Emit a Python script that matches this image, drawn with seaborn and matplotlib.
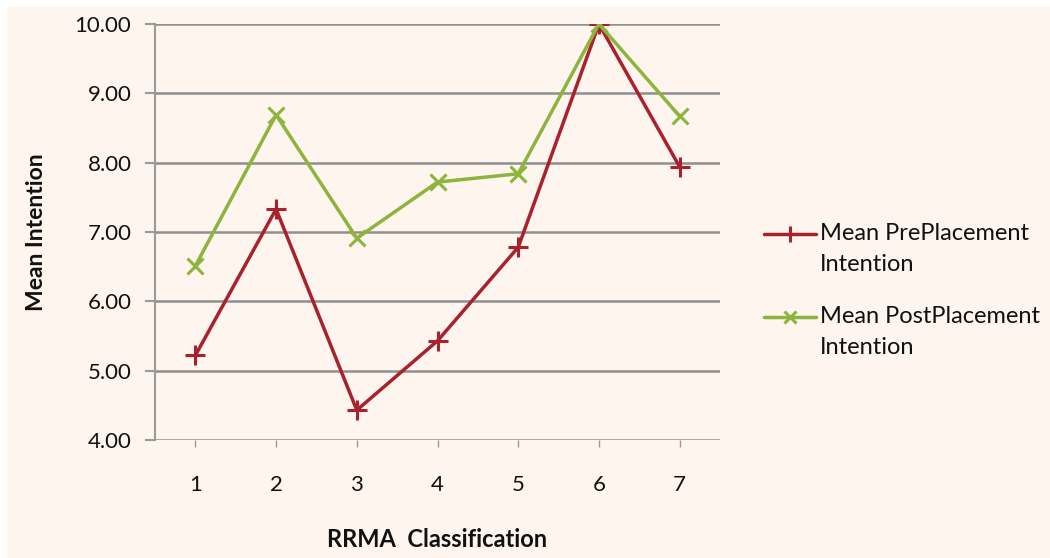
import matplotlib
matplotlib.use("Agg")
import matplotlib.pyplot as plt
import seaborn as sns
import numpy as np
from matplotlib.patches import Rectangle
from matplotlib.legend_handler import HandlerLine2D

categories = [1, 2, 3, 4, 5, 6, 7]
pre_values = [5.22, 7.33, 4.43, 5.43, 6.78, 10.0, 7.94]
post_values = [6.51, 8.69, 6.91, 7.72, 7.84, 10.0, 8.67]
series_names = ["Mean PrePlacement\nIntention", "Mean PostPlacement\nIntention"]
y_ticks = [4, 5, 6, 7, 8, 9, 10]

sns.set_theme(style="white")
plt.rcParams['font.family'] = ['Lato', 'DejaVu Sans']

bg = "#FDF5EE"
red = "#A8212C"
green = "#8DB43D"


class TopLineHandler(HandlerLine2D):
    """Align the legend handle with the first line of a two-line label."""
    def create_artists(self, legend, orig_handle, xdescent, ydescent,
                       width, height, fontsize, trans):
        return super().create_artists(legend, orig_handle, xdescent,
                                      ydescent - 22, width, height,
                                      fontsize, trans)


fig = plt.figure(figsize=(10.5, 5.58), dpi=100, facecolor="white")
fig.patches.append(Rectangle((7/1050, 0.0), 1 - 7/1050, 1 - 7/558,
                             transform=fig.transFigure, facecolor=bg,
                             edgecolor="none", zorder=-10))
ax = fig.add_axes([155/1050, 1 - 440/558, (720 - 155)/1050, (440 - 24)/558])
ax.set_facecolor(bg)

sns.lineplot(x=categories, y=pre_values, ax=ax, color=red, linewidth=2.5,
             marker="+", markersize=14, markeredgewidth=2.2, markeredgecolor=red,
             label=series_names[0], zorder=3)
sns.lineplot(x=categories, y=post_values, ax=ax, color=green, linewidth=2.5,
             marker="x", markersize=11, markeredgewidth=2.2, markeredgecolor=green,
             label=series_names[1], zorder=4)

ax.set_xlim(0.5, 7.5)
ax.set_ylim(4, 10)
ax.set_yticks(y_ticks)
ax.set_yticklabels([f"{v:.2f}" for v in y_ticks])
ax.set_xticks(categories)
ax.set_xticklabels([str(c) for c in categories])

for y in y_ticks:
    ax.axhline(y, color="#8F8F8F", linewidth=1.8, zorder=1)

for s in ["top", "right", "bottom"]:
    ax.spines[s].set_visible(False)
ax.spines["left"].set_color("#9A9A9A")
ax.spines["left"].set_linewidth(1.5)

ax.tick_params(axis="y", which="both", left=True, length=7, width=1.5,
               color="#9A9A9A", labelsize=16, pad=10, labelcolor="#111111")
ax.tick_params(axis="x", which="both", bottom=True, length=5, width=1,
               color="#9A9A9A", labelsize=16, pad=20, labelcolor="#111111")

ax.set_xlabel("RRMA  Classification", fontsize=17, fontweight="bold", labelpad=24,
              color="#111111")
ax.set_ylabel("Mean Intention", fontsize=16.5, fontweight="bold", labelpad=20,
              color="#111111")

leg = ax.legend(loc="center left", bbox_to_anchor=(1.062, 0.36), frameon=False,
                fontsize=17, handlelength=2.2, handletextpad=0.15,
                labelspacing=1.3, borderaxespad=0, markerscale=0.8,
                handler_map={matplotlib.lines.Line2D: TopLineHandler()})
for t in leg.get_texts():
    t.set_color("#111111")
    t.set_linespacing(1.6)

fig.savefig("out.png", dpi=100, facecolor=fig.get_facecolor())
